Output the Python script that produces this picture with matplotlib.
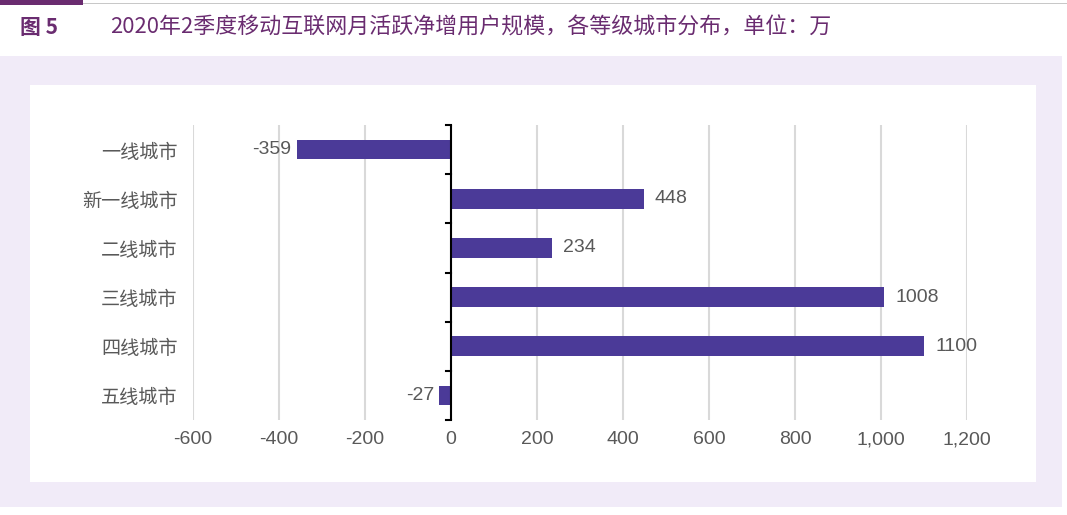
import matplotlib.pyplot as plt
from matplotlib.patches import Rectangle
from matplotlib.ticker import FuncFormatter

plt.rcParams['font.family'] = ['Noto Sans CJK SC', 'DejaVu Sans']

cities = ['一线城市', '新一线城市', '二线城市', '三线城市', '四线城市', '五线城市']
values = [-359, 448, 234, 1008, 1100, -27]
x_ticks = [-600, -400, -200, 0, 200, 400, 600, 800, 1000, 1200]

W, H = 1067, 515
fig = plt.figure(figsize=(W / 100, H / 100), dpi=100)
fig.patch.set_facecolor('white')

# lavender background and white card
fig.patches.append(Rectangle((0, 8 / H), 1062 / W, 1 - 8 / H - 56 / H, transform=fig.transFigure,
                             facecolor='#f1ebf8', edgecolor='none', zorder=0))
fig.patches.append(Rectangle((30 / W, 1 - 482 / H), 1006 / W, 397 / H, transform=fig.transFigure,
                             facecolor='white', edgecolor='none', zorder=0))
# header lines
fig.patches.append(Rectangle((0, 1 - 4 / H), 1, 1 / H, transform=fig.transFigure,
                             facecolor='#c8c8c8', edgecolor='none'))
fig.patches.append(Rectangle((0, 1 - 5 / H), 83 / W, 5 / H, transform=fig.transFigure,
                             facecolor='#6a2c70', edgecolor='none'))

purple = '#6a2c70'
fig.text(20 / W, 1 - 28 / H, '图 5', fontsize=15, fontweight='semibold', color=purple, va='center')
fig.text(110 / W, 1 - 28 / H, '2020年2季度移动互联网月活跃净增用户规模，各等级城市分布，单位：万',
         fontsize=15.8, color=purple, va='center')

ax = fig.add_axes([193 / W, 1 - 420 / H, (967 - 193) / W, 295 / H], zorder=2)
ax.set_facecolor('white')
y = list(range(len(cities)))
ax.barh(y, values, height=0.4, color='#4b3a98', zorder=3)

ax.set_xlim(-600, 1200)
ax.set_ylim(len(cities) - 0.5, -0.5)
ax.set_xticks(x_ticks)
ax.xaxis.set_major_formatter(FuncFormatter(lambda v, p: f'{int(v):,}' if v > 0 else f'{int(v)}'))
ax.tick_params(axis='x', length=0, labelsize=14, labelcolor='#595959', pad=8)
ax.grid(axis='x', color='#d9d9d9', linewidth=1.5, zorder=0)
for s in ax.spines.values():
    s.set_visible(False)

ax.set_yticks(y)
ax.set_yticklabels(cities)
ax.tick_params(axis='y', length=0, labelsize=13.8, labelcolor='#595959', pad=11)

# zero axis with ticks between categories
ax.axvline(0, color='black', linewidth=1.5, zorder=4)
for b in range(len(cities) + 1):
    ax.plot([-12, 0], [b - 0.5, b - 0.5], color='black', linewidth=1.5, zorder=4, clip_on=False)

for yi, v in zip(y, values):
    if v >= 0:
        ax.text(v + 26, yi, str(v), va='center', ha='left', fontsize=14, color='#595959',
                family=['Liberation Sans', 'DejaVu Sans'])
    else:
        ax.text(v - 12, yi, str(v), va='center', ha='right', fontsize=14, color='#595959',
                family=['Liberation Sans', 'DejaVu Sans'])
for lab in ax.get_xticklabels():
    lab.set_family(['Liberation Sans', 'DejaVu Sans'])

fig.savefig('out.png', dpi=100)
